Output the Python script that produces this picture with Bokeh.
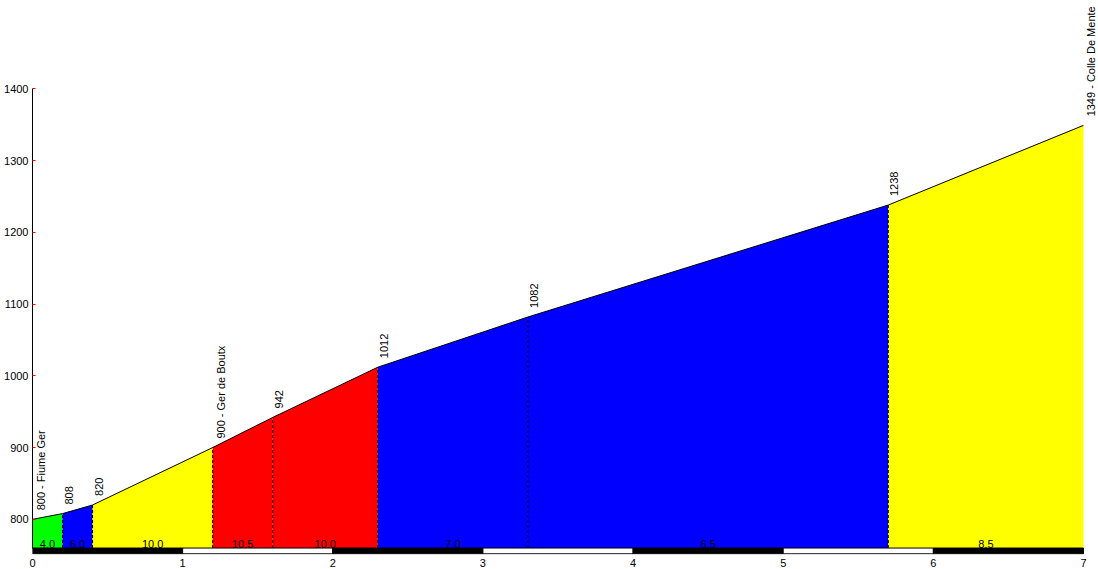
import math
from bokeh.plotting import figure
from bokeh.models import Range1d, FixedTicker
from bokeh.core.properties import value
from bokeh.embed import file_html
from bokeh.resources import INLINE

# ---- data ----
dist = [0.0, 0.2, 0.4, 1.2, 1.6, 2.3, 3.3, 5.7, 7.0]
elev = [800, 808, 820, 900, 942, 1012, 1082, 1238, 1349]
point_labels = ["800 - Fiume Ger", "808", "820", "900 - Ger de Boutx", "942",
                "1012", "1082", "1238", "1349 - Colle De Mente"]
grade_labels = ["4.0", "6.0", "10.0", "10.5", "10.0", "7.0", "6.5", "8.5"]
seg_colors = ["#00ff00", "#0000ff", "#ffff00", "#ff0000", "#ff0000",
              "#0000ff", "#0000ff", "#ffff00"]
x_ticks = [0, 1, 2, 3, 4, 5, 6, 7]
y_ticks = [800, 900, 1000, 1100, 1200, 1300, 1400]

BASE = 760      # bottom of the filled profile
BAR_BOTTOM = 752
FONT = "Liberation Sans"

p = figure(width=1098, height=569, x_range=Range1d(0, 7.1), y_range=Range1d(751, 1523),
           output_backend="svg", toolbar_location=None,
           min_border_left=32, min_border_right=0, min_border_top=0, min_border_bottom=0)
p.grid.visible = False
p.outline_line_color = None
p.background_fill_color = "white"

# filled segments
xs, ys = [], []
for i in range(len(dist) - 1):
    xs.append([dist[i], dist[i], dist[i + 1], dist[i + 1]])
    ys.append([BASE, elev[i], elev[i + 1], BASE])
p.patches(xs=xs, ys=ys, fill_color=seg_colors, line_color=None)

# dashed separators
mid = dist[1:-1]
p.segment(x0=mid, y0=[BASE] * len(mid), x1=mid, y1=elev[1:-1],
          line_color="black", line_width=1, line_dash="3 2")

# profile outline
p.line(dist, elev, line_color="black", line_width=1)

# point labels (rotated)
p.text(x=dist, y=elev, text=point_labels, angle=math.pi / 2,
       text_align="left", text_baseline="top", x_offset=2, y_offset=-9,
       text_font=value(FONT), text_font_size="11px", text_color="black")

# gradient labels
gx = [(dist[i] + dist[i + 1]) / 2 for i in range(len(dist) - 1)]
p.text(x=gx, y=[BASE] * len(gx), text=grade_labels, text_align="center",
       text_baseline="bottom", y_offset=0, text_font=value(FONT),
       text_font_size="11px", text_color="black")

# km bar
bar_colors = ["black" if k % 2 == 0 else "white" for k in x_ticks[:-1]]
p.quad(left=x_ticks[:-1], right=x_ticks[1:], bottom=BAR_BOTTOM, top=BASE,
       fill_color=bar_colors, line_color="black", line_width=1)

# axes
p.yaxis.ticker = FixedTicker(ticks=y_ticks)
p.yaxis.bounds = (BASE, 1400)
p.yaxis.axis_line_color = "black"
p.yaxis.major_tick_in = 3
p.yaxis.major_tick_out = 0
p.yaxis.major_tick_line_color = "red"
p.yaxis.minor_tick_line_color = None
p.yaxis.minor_tick_in = 0
p.yaxis.minor_tick_out = 0
p.yaxis.major_label_standoff = 4

p.xaxis.ticker = FixedTicker(ticks=x_ticks)
p.xaxis.axis_line_color = None
p.xaxis.major_tick_line_color = None
p.xaxis.minor_tick_line_color = None
p.xaxis.major_tick_in = 0
p.xaxis.major_tick_out = 0
p.xaxis.minor_tick_in = 0
p.xaxis.minor_tick_out = 0
p.xaxis.major_label_standoff = 4

for ax in (p.xaxis, p.yaxis):
    ax.major_label_text_font = FONT
    ax.major_label_text_font_size = "11px"
    ax.major_label_text_color = "black"

open("out.html", "w").write(file_html(p, INLINE))
